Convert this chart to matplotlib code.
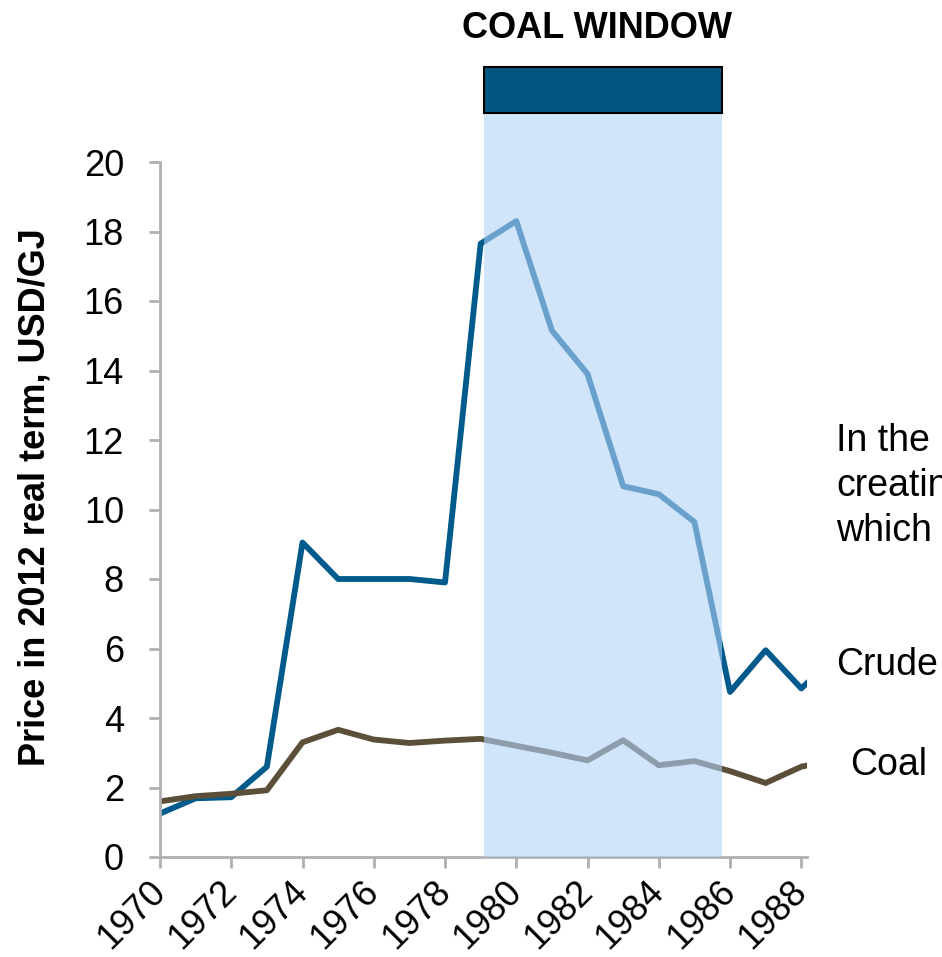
import matplotlib

matplotlib.use("Agg")
import matplotlib.pyplot as plt
from matplotlib.patches import Rectangle

plt.rcParams["font.family"] = ["Liberation Sans", "DejaVu Sans"]

years = [1970, 1971, 1972, 1973, 1974, 1975, 1976, 1977, 1978, 1979,
         1980, 1981, 1982, 1983, 1984, 1985, 1986, 1987, 1988, 1989]
crude = [1.25, 1.69, 1.72, 2.6, 9.05, 8.0, 8.0, 8.0, 7.9, 17.65,
         18.3, 15.15, 13.9, 10.67, 10.44, 9.64, 4.75, 5.95, 4.85, 5.8]
coal = [1.6, 1.75, 1.82, 1.92, 3.3, 3.66, 3.38, 3.28, 3.35, 3.4,
        3.2, 3.0, 2.78, 3.36, 2.64, 2.76, 2.47, 2.13, 2.6, 2.8]
year_ticks = list(range(1970, 1989, 2))
window_start, window_end = 1979.08, 1985.78
side_notes = ["In the", "creating", "which"]

CRUDE_COLOR = "#005a8c"
COAL_COLOR = "#5c4f3a"
AXIS_COLOR = "#b0b0b0"

fig = plt.figure(figsize=(9.42, 9.57), dpi=100)
ax = fig.add_axes([160 / 942, 1 - 857 / 957, (807 - 160) / 942, (857 - 162) / 957])

ax.plot(years, crude, color=CRUDE_COLOR, linewidth=4.2, zorder=2)
ax.plot(years, coal, color=COAL_COLOR, linewidth=4.2, zorder=2)

ax.set_xlim(1970, 1988.16)
ax.set_ylim(0, 20)
ax.set_yticks(range(0, 21, 2))
ax.set_xticks(year_ticks)
ax.set_xticklabels([str(y) for y in year_ticks], rotation=45, ha="right",
                   va="center", rotation_mode="anchor")

for side in ("top", "right"):
    ax.spines[side].set_visible(False)
for side in ("left", "bottom"):
    ax.spines[side].set_color(AXIS_COLOR)
    ax.spines[side].set_linewidth(2)
ax.tick_params(axis="both", direction="out", color=AXIS_COLOR, width=2, length=8,
               labelsize=26)
ax.tick_params(axis="y", pad=18)
ax.tick_params(axis="x", pad=13)

ax.set_ylabel("Price in 2012 real term, USD/GJ", fontsize=26, fontweight="bold")
ax.yaxis.set_label_coords((52 - 160) / 647, (857 - 497) / 695)

# coal window shading, runs above the axes up to the bar
trans = ax.get_xaxis_transform()
top_of_shade = (857 - 113) / (857 - 162)
bar_top = (857 - 67) / (857 - 162)
ax.add_patch(Rectangle((window_start, 0), window_end - window_start, top_of_shade,
                       transform=trans, facecolor="#b1d2f8", alpha=0.6,
                       edgecolor="none", clip_on=False, zorder=3))
ax.add_patch(Rectangle((window_start, top_of_shade), window_end - window_start,
                       bar_top - top_of_shade, transform=trans, facecolor="#02567f",
                       edgecolor="black", linewidth=1.5, clip_on=False, zorder=4))

fig.text(597 / 942, 1 - 29 / 957, "COAL WINDOW", fontsize=26, fontweight="bold",
         ha="center", va="center")

for i, note in enumerate(side_notes):
    fig.text(836 / 942, 1 - (441 + i * 45) / 957, note, fontsize=27,
             ha="left", va="center")
fig.text(836 / 942, 1 - 665 / 957, "Crude", fontsize=27, ha="left", va="center")
fig.text(850 / 942, 1 - 765 / 957, "Coal", fontsize=27, ha="left", va="center")

fig.savefig("out.png", dpi=100)
